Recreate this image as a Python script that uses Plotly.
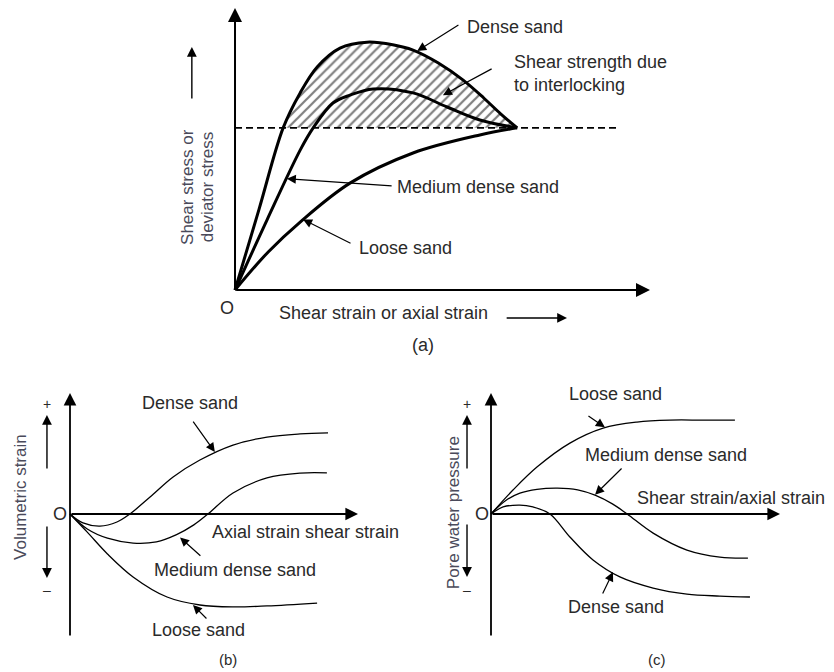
import plotly.graph_objects as go

# ---------------- (a) stress-strain curves ----------------
a_dense_x = [0, 0.58, 1.16, 1.57, 1.98, 2.53, 3.18, 3.80, 4.29, 4.90, 5.49, 6.00, 6.40, 6.80]
a_dense_y = [0, 2.87, 5.75, 6.99, 7.91, 8.58, 8.79, 8.70, 8.51, 8.05, 7.45, 6.80, 6.25, 5.75]
a_medium_x = [0, 0.77, 1.57, 1.88, 2.36, 2.77, 3.33, 4.29, 5.11, 5.90, 6.80]
a_medium_y = [0, 2.48, 4.96, 5.74, 6.63, 6.91, 7.13, 6.99, 6.49, 6.03, 5.75]
a_loose_x = [0, 0.80, 1.57, 2.77, 4.29, 5.90, 6.80]
a_loose_y = [0, 1.35, 2.41, 3.79, 4.86, 5.50, 5.75]
a_ultimate = 5.75
a_ultimate_x = [0, 9.2]

# ---------------- (b) volumetric strain ----------------
b_dense_x = [0, 0.45, 1.04, 1.63, 2.08, 2.78, 3.58, 4.51, 5.66, 6.84, 7.99, 8.96]
b_dense_y = [0, -0.37, -0.50, -0.33, 0, 0.70, 1.53, 2.23, 2.85, 3.18, 3.31, 3.35]
b_medium_x = [0, 0.60, 1.30, 2.19, 3.00, 3.70, 4.30, 4.79, 5.66, 6.84, 7.99, 8.92]
b_medium_y = [0, -0.62, -1.00, -1.20, -1.15, -0.85, -0.45, 0, 0.87, 1.49, 1.69, 1.70]
b_loose_x = [0, 0.60, 1.30, 2.19, 3.37, 4.51, 5.66, 6.84, 8.58]
b_loose_y = [0, -0.75, -1.65, -2.60, -3.43, -3.76, -3.84, -3.80, -3.68]

# ---------------- (c) pore water pressure ----------------
c_loose_x = [0, 0.76, 1.59, 2.73, 3.88, 5.05, 6.19, 7.34, 8.44]
c_loose_y = [0, 0.99, 1.94, 2.93, 3.55, 3.80, 3.88, 3.88, 3.88]
c_medium_x = [0, 0.50, 1.00, 1.59, 2.30, 3.00, 3.60, 4.20, 4.71, 5.61, 6.78, 7.92, 8.89]
c_medium_y = [0, 0.55, 0.86, 1.02, 1.07, 1.00, 0.78, 0.42, 0, -0.79, -1.49, -1.78, -1.82]
c_dense_x = [0, 0.42, 1.00, 1.45, 2.04, 2.73, 3.53, 4.46, 5.61, 6.78, 7.92, 8.96]
c_dense_y = [0, 0.29, 0.37, 0.29, 0, -0.95, -1.90, -2.60, -3.06, -3.31, -3.39, -3.43]

FONT = "Liberation Sans, Arial, sans-serif"
TEXT = "#2a2a2a"
SOFT = "#4a4a5a"

fig = go.Figure()


def curve(x, y, ax, width):
    fig.add_trace(go.Scatter(
        x=x, y=y, mode="lines", xaxis=ax[0], yaxis=ax[1],
        line=dict(color="black", width=width, shape="spline", smoothing=1.0),
        hoverinfo="skip", showlegend=False))


A = ("x", "y")
B = ("x2", "y2")
C = ("x3", "y3")

# hatched band: shear strength due to interlocking
above = [i for i, v in enumerate(a_dense_y) if i > 0 and v >= a_ultimate - 1e-6]
hx = a_dense_x[above[0]:above[-1] + 1]
hy = a_dense_y[above[0]:above[-1] + 1]
fig.add_trace(go.Scatter(
    x=[hx[0], hx[-1]], y=[a_ultimate, a_ultimate], mode="lines",
    line=dict(width=0, color="rgba(0,0,0,0)"), hoverinfo="skip",
    showlegend=False, xaxis="x", yaxis="y"))
fig.add_trace(go.Scatter(
    x=hx, y=hy, mode="lines", fill="tonexty",
    fillcolor="rgba(0,0,0,0)",
    fillpattern=dict(shape="/", fgcolor="black", bgcolor="white",
                     size=7, solidity=0.32),
    line=dict(width=0, shape="spline", smoothing=1.0),
    hoverinfo="skip", showlegend=False, xaxis="x", yaxis="y"))

# ultimate (critical state) line
fig.add_trace(go.Scatter(
    x=a_ultimate_x, y=[a_ultimate, a_ultimate], mode="lines",
    line=dict(color="black", width=1.6, dash="7px,4px"),
    hoverinfo="skip", showlegend=False, xaxis="x", yaxis="y"))

curve(a_dense_x, a_dense_y, A, 3)
curve(a_medium_x, a_medium_y, A, 3)
curve(a_loose_x, a_loose_y, A, 3)

curve(b_dense_x, b_dense_y, B, 1.3)
curve(b_medium_x, b_medium_y, B, 1.3)
curve(b_loose_x, b_loose_y, B, 1.3)

curve(c_loose_x, c_loose_y, C, 1.3)
curve(c_medium_x, c_medium_y, C, 1.3)
curve(c_dense_x, c_dense_y, C, 1.3)

ann = []


def label(ax, x, y, text, xanchor="left", size=18, color=TEXT, angle=0):
    ann.append(dict(xref=ax[0], yref=ax[1], x=x, y=y, text=text,
                    showarrow=False, xanchor=xanchor, yanchor="middle",
                    textangle=angle,
                    font=dict(family=FONT, size=size, color=color)))


def arrow(ax, tail, head, width=1.2, size=1.5, head_style=2):
    ann.append(dict(xref=ax[0], yref=ax[1], axref=ax[0], ayref=ax[1],
                    x=head[0], y=head[1], ax=tail[0], ay=tail[1], text="",
                    showarrow=True, arrowhead=head_style, arrowsize=size,
                    arrowwidth=width, arrowcolor="black",
                    standoff=0, startstandoff=0))


# ---- axes of (a)
arrow(A, (0, 0), (0, 10.0), width=2, size=1.4)
arrow(A, (0, 0), (10.0, 0), width=2, size=1.4)
label(A, -0.19, -0.64, "O", xanchor="center")
label(A, 1.01, -0.82, "Shear strain or axial strain")
arrow(A, (6.51, -0.99), (8.0, -0.99), width=1.4, size=1.4)
label(A, 4.53, -1.95, "(a)", xanchor="center")
label(A, -1.16, 3.65, "Shear stress or", xanchor="center", size=17,
      color=SOFT, angle=-90)
label(A, -0.67, 3.65, "deviator stress", xanchor="center", size=17,
      color=SOFT, angle=-90)
arrow(A, (-1.04, 6.74), (-1.04, 8.62), width=1.4, size=1.4)

label(A, 5.54, 9.33, "Dense sand")
arrow(A, (5.42, 9.43), (4.39, 8.48))
label(A, 6.67, 8.09, "Shear strength due")
label(A, 6.67, 7.27, "to interlocking")
arrow(A, (6.22, 7.87), (5.01, 6.91))
label(A, 3.86, 3.65, "Medium dense sand")
arrow(A, (3.81, 3.69), (1.25, 3.95))
label(A, 2.94, 1.49, "Loose sand")
arrow(A, (2.82, 1.63), (1.64, 2.50))

# ---- axes of (b)
arrow(B, (0, -5.08), (0, 5.0), width=1.8, size=1.4)
arrow(B, (0, 0), (10.0, 0), width=1.8, size=1.4)
label(B, -0.35, 0, "O", xanchor="center")
label(B, 4.86, -0.74, "Axial strain shear strain")
label(B, 5.49, -6.0, "(b)", xanchor="center", size=15)
label(B, -1.74, 0.70, "Volumetric strain", xanchor="center", size=17,
      color=SOFT, angle=-90)
label(B, -0.80, 4.55, "+", xanchor="center", size=14)
label(B, -0.80, -3.14, "–", xanchor="center", size=14)
arrow(B, (-0.80, 1.82), (-0.80, 4.09), width=1.4, size=1.4)
arrow(B, (-0.80, -0.45), (-0.80, -2.64), width=1.4, size=1.4)

label(B, 2.43, 4.59, "Dense sand")
arrow(B, (4.24, 3.88), (5.03, 2.56))
label(B, 2.85, -2.31, "Medium dense sand")
arrow(B, (4.58, -1.78), (3.82, -0.97))
label(B, 2.78, -4.79, "Loose sand")
arrow(B, (4.79, -4.38), (4.27, -3.76))

# ---- axes of (c)
arrow(C, (0, -5.08), (0, 5.0), width=1.8, size=1.4)
arrow(C, (0, 0), (10.0, 0), width=1.8, size=1.4)
label(C, -0.31, 0, "O", xanchor="center")
label(C, 4.98, 0.66, "Shear strain/axial strain")
label(C, 5.74, -6.0, "(c)", xanchor="center", size=15)
label(C, -1.31, 0.04, "Pore water pressure", xanchor="center", size=17,
      color=SOFT, angle=-90)
label(C, -0.83, 4.55, "+", xanchor="center", size=14)
label(C, -0.83, -3.14, "–", xanchor="center", size=14)
arrow(C, (-0.83, 1.82), (-0.83, 4.09), width=1.4, size=1.4)
arrow(C, (-0.83, -0.37), (-0.83, -2.60), width=1.4, size=1.4)

label(C, 2.63, 4.95, "Loose sand")
arrow(C, (3.32, 4.09), (3.94, 3.58))
label(C, 3.18, 2.44, "Medium dense sand")
arrow(C, (4.57, 1.94), (3.60, 0.80))
label(C, 2.60, -3.84, "Dense sand")
arrow(C, (3.84, -3.35), (4.22, -2.40))

hidden = dict(visible=False, showgrid=False, zeroline=False, fixedrange=True)
fig.update_layout(
    width=834, height=672,
    margin=dict(l=0, r=0, t=0, b=0),
    paper_bgcolor="white", plot_bgcolor="white",
    showlegend=False,
    xaxis=dict(domain=[0, 1], range=[-5.663, 14.434], anchor="y", **hidden),
    yaxis=dict(domain=[0.4345, 1], range=[-3.191, 10.284], anchor="x", **hidden),
    xaxis2=dict(domain=[0, 0.5], range=[-2.4306, 12.0486], anchor="y2", **hidden),
    yaxis2=dict(domain=[0, 0.4271], range=[-6.529, 5.331], anchor="x2", **hidden),
    xaxis3=dict(domain=[0.5, 1], range=[-2.5606, 11.8685], anchor="y3", **hidden),
    yaxis3=dict(domain=[0, 0.4271], range=[-6.529, 5.331], anchor="x3", **hidden),
    annotations=ann,
)

fig.write_html("out.html")
